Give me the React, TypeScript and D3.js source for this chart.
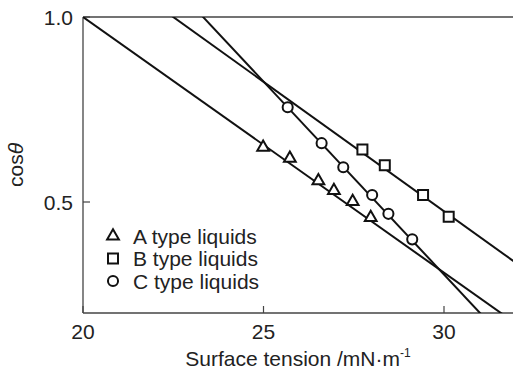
import * as d3 from 'd3';

// surface tension (mN/m) and cos(theta) for each liquid type
const aTension = [24.99, 25.73, 26.52, 26.95, 27.47, 27.97];
const aCos = [0.648, 0.618, 0.557, 0.531, 0.501, 0.458];
const bTension = [27.74, 28.36, 29.42, 30.13];
const bCos = [0.642, 0.599, 0.519, 0.46];
const cTension = [25.67, 26.61, 27.21, 28.01, 28.46, 29.12];
const cCos = [0.756, 0.659, 0.594, 0.519, 0.468, 0.399];

// fitted straight lines: cos = intercept + slope * tension
const fitSlopes = [-0.0691, -0.07, -0.1043];
const fitIntercepts = [2.382, 2.575, 3.433];

const seriesNames = ['A type liquids', 'B type liquids', 'C type liquids'];
const xTicks = [20, 25, 30];
const yTicks = [0.5, 1.0];

const W = 513;
const H = 371;
const left = 83;
const top = 17;
const bottom = 313;

export default function App() {
    const x = d3.scaleLinear().domain([20, 32]).range([left, left + 12 * 36.1]);
    const y = d3.scaleLinear().domain([0.2, 1.0]).range([bottom, top]);

    const shapes = [d3.symbolTriangle, d3.symbolSquare, d3.symbolCircle];
    const sizes = [60, 100, 80];
    const sym = (i: number) => d3.symbol().type(shapes[i]).size(sizes[i])() || '';

    const series = [
        aTension.map((t, i) => [t, aCos[i]]),
        bTension.map((t, i) => [t, bCos[i]]),
        cTension.map((t, i) => [t, cCos[i]]),
    ];

    const font = "'Liberation Sans', Arial, Helvetica, sans-serif";
    const textColor = '#222';
    const axisColor = '#444';
    const fs = 21;

    return (
        <svg width={W} height={H} style={{ position: 'absolute', left: 0, top: 0, background: '#fff' }} fontFamily={font}>
            <defs>
                <clipPath id="plot">
                    <rect x={left} y={top} width={W - left} height={bottom - top} />
                </clipPath>
            </defs>

            {/* frame: left, top, bottom */}
            <line x1={left} x2={left} y1={top} y2={bottom} stroke={axisColor} strokeWidth={1.3} />
            <line x1={left} x2={W} y1={top} y2={top} stroke={axisColor} strokeWidth={1.3} />
            <line x1={left} x2={W} y1={bottom} y2={bottom} stroke={axisColor} strokeWidth={1.3} />

            {xTicks.map((t) => (
                <g key={'x' + t}>
                    <line x1={x(t)} x2={x(t)} y1={bottom} y2={bottom - 7} stroke={axisColor} strokeWidth={1.2} />
                    <text x={x(t)} y={bottom + 26} textAnchor="middle" fontSize={fs} fill={textColor}>
                        {t}
                    </text>
                </g>
            ))}
            {yTicks.map((t) => (
                <g key={'y' + t}>
                    <line x1={left} x2={left + 7} y1={y(t)} y2={y(t)} stroke={axisColor} strokeWidth={1.2} />
                    <text x={left - 10} y={y(t) + 7.5} textAnchor="end" fontSize={fs} fill={textColor}>
                        {t.toFixed(1)}
                    </text>
                </g>
            ))}

            <text x={(left + W) / 2} y={366} textAnchor="middle" fontSize={fs} fill={textColor}>
                Surface tension /mN·m
                <tspan fontSize={12} dy={-9}>
                    -1
                </tspan>
            </text>
            <text transform={`translate(${23},${(top + bottom) / 2}) rotate(-90)`} textAnchor="middle" fontSize={fs} fill={textColor}>
                cos<tspan fontStyle="italic">θ</tspan>
            </text>

            <g clipPath="url(#plot)">
                {fitSlopes.map((s, i) => {
                    const x0 = 20;
                    const x1 = 32;
                    return (
                        <line
                            key={'fit' + i}
                            x1={x(x0)}
                            y1={y(fitIntercepts[i] + s * x0)}
                            x2={x(x1)}
                            y2={y(fitIntercepts[i] + s * x1)}
                            stroke="#111"
                            strokeWidth={2}
                        />
                    );
                })}
            </g>

            {series.map((pts, i) =>
                pts.map((p, j) => (
                    <path
                        key={`m${i}-${j}`}
                        d={sym(i)}
                        transform={`translate(${x(p[0])},${y(p[1])})`}
                        fill="#fff"
                        stroke="#111"
                        strokeWidth={2}
                    />
                )),
            )}

            {seriesNames.map((name, i) => (
                <g key={name} transform={`translate(113,${236 + i * 22.5})`}>
                    <path d={sym(i)} fill="#fff" stroke="#111" strokeWidth={2} />
                    <text x={20} y={7.5} fontSize={fs} fill={textColor}>
                        {name}
                    </text>
                </g>
            ))}
        </svg>
    );
}
